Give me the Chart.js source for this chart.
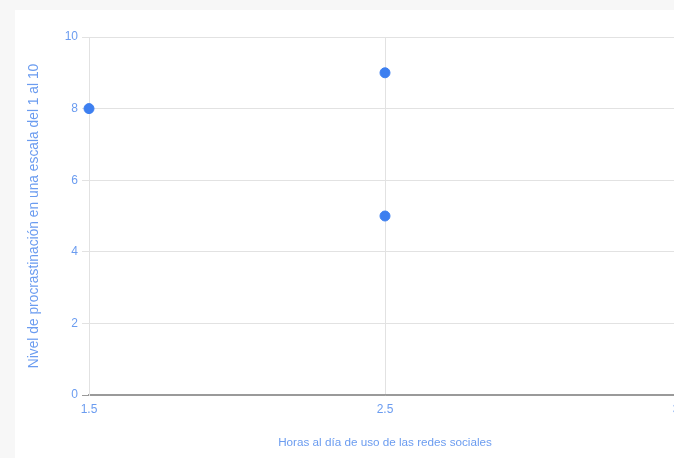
<!DOCTYPE html>
<html>
<head>
<meta charset="utf-8">
<script src="https://cdn.jsdelivr.net/npm/chart.js@4/dist/chart.umd.min.js"></script>
<style>
    html, body { margin: 0; padding: 0; background: #f7f7f7; overflow: hidden; width: 674px; height: 458px; }
    #tarjeta { position: absolute; left: 15px; top: 10px; width: 700px; height: 448px; background: #fff; }
</style>
</head>
<body>
<div id="tarjeta"><canvas id="grafico"></canvas></div>
<script>
// Datos
const horas = [1.5, 2.5, 2.5]
const nivel = [8, 9, 5]
const ticksX = [1.5, 2.5, 3.5]
const ticksY = [0, 2, 4, 6, 8, 10]

const azul = '#3d7ff0'
const textoAzul = '#6b9cf0'
const familia = 'Liberation Sans, Arial, sans-serif'

const puntos = horas.map((h, i) => ({ x: h, y: nivel[i] }))

const config = {
    type: 'scatter',
    data: {
        datasets: [
            {
                label: 'Nivel',
                data: puntos,
                backgroundColor: azul,
                borderColor: azul,
                pointRadius: 5,
                pointHoverRadius: 5,
                clip: false
            },
        ],
    },
    options: {
        responsive: true,
        maintainAspectRatio: false,
        animation: false,
        devicePixelRatio: 1,
        layout: { padding: { left: 11, right: 34, top: 27, bottom: 0 } },
        plugins: { legend: { display: false }, tooltip: { enabled: false } },
        scales: {
            x: {
                type: 'linear',
                min: ticksX[0],
                max: ticksX[ticksX.length - 1],
                afterBuildTicks: s => { s.ticks = ticksX.map(v => ({ value: v })) },
                afterFit: s => { s.height = 63 },
                grid: { color: '#e2e2e2', drawTicks: false },
                border: { color: '#9a9a9a', width: 1.5 },
                ticks: { color: textoAzul, font: { family: familia, size: 12 }, padding: 7, callback: v => v.toFixed(1) },
                title: {
                    display: true,
                    text: 'Horas al día de uso de las redes sociales',
                    color: textoAzul,
                    font: { family: familia, size: 11.7 },
                    padding: { top: 4, bottom: 8 }
                }
            },
            y: {
                min: 0,
                max: 10,
                afterBuildTicks: s => { s.ticks = ticksY.map(v => ({ value: v })) },
                afterFit: s => { s.width = 63 },
                grid: {
                    color: c => c.tick && c.tick.value === 0 ? '#9a9a9a' : '#e2e2e2',
                    tickLength: 7
                },
                border: { color: '#e2e2e2' },
                ticks: { color: textoAzul, font: { family: familia, size: 12 }, padding: 4 },
                title: {
                    display: true,
                    text: 'Nivel de procrastinación en una escala del 1 al 10',
                    color: textoAzul,
                    font: { family: familia, size: 13.8 },
                    padding: 0
                }
            }
        }
    },
}

new Chart(document.getElementById('grafico'), config)
</script>
</body>
</html>
